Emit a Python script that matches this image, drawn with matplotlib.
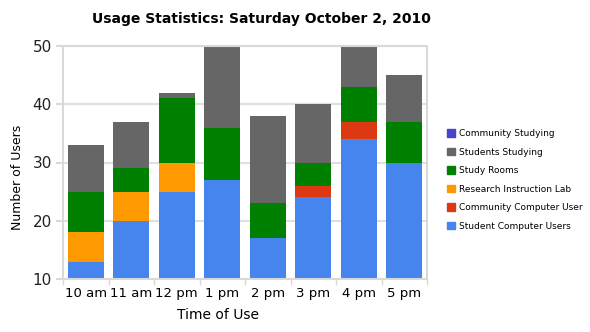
import matplotlib.pyplot as plt
import numpy as np
from matplotlib.patches import Patch

times = ["10 am", "11 am", "12 pm", "1 pm", "2 pm", "3 pm", "4 pm", "5 pm"]

# stacked from the bottom up
student_computer = [13, 20, 25, 27, 17, 24, 34, 30]
community_computer = [0, 0, 0, 0, 0, 2, 3, 0]
research_lab = [5, 5, 5, 0, 0, 0, 0, 0]
study_rooms = [7, 4, 11, 9, 6, 4, 6, 7]
students_studying = [8, 8, 1, 14, 15, 10, 7, 8]
community_studying = [0, 0, 0, 0, 0, 0, 0, 0]

series = [
    ("Student Computer Users", student_computer, "#4684ee"),
    ("Community Computer User", community_computer, "#dc3912"),
    ("Research Instruction Lab", research_lab, "#ff9900"),
    ("Study Rooms", study_rooms, "#008000"),
    ("Students Studying", students_studying, "#666666"),
    ("Community Studying", community_studying, "#4942cc"),
]

fig = plt.figure(figsize=(5.9, 3.32), dpi=100)
ax = fig.add_axes([63 / 590, 53 / 332, 364 / 590, 233 / 332])

x = np.arange(len(times))
bottom = np.zeros(len(times))
for name, vals, color in series:
    ax.bar(x, vals, 0.79, bottom=bottom, color=color, zorder=2)
    bottom += np.array(vals)

ax.set_xlim(-0.5, len(times) - 0.5)
ax.set_ylim(10, 50)
ax.set_yticks([10, 20, 30, 40, 50])
ax.yaxis.grid(True, color="#e0e0e0", linewidth=1.5, zorder=0)
ax.set_axisbelow(True)

ax.set_xticks(x)
ax.set_xticklabels(times, fontsize=9.5)
ax.set_xticks(np.arange(-0.5, len(times)), minor=True)
ax.tick_params(axis="x", which="major", length=0, pad=6)
ax.tick_params(axis="x", which="minor", length=4, color="#d9d9d9", width=1)
ax.tick_params(axis="y", length=5, color="#d9d9d9", width=1.5, labelsize=11,
               labelcolor="#222222", pad=3)

for sp in ax.spines.values():
    sp.set_color("#d9d9d9")
    sp.set_linewidth(1.5)

fig.text(261 / 590, 1 - 19 / 332, "Usage Statistics: Saturday October 2, 2010",
         ha="center", va="center", fontsize=10, fontweight="bold")
fig.text(218 / 590, 1 - 315 / 332, "Time of Use", ha="center", va="center",
         fontsize=10)
fig.text(18 / 590, 1 - 177 / 332, "Number of Users", ha="center", va="center",
         rotation=90, fontsize=9)

handles = [Patch(color=c, label=n) for n, v, c in reversed(series)]
fig.legend(handles=handles, loc="center left",
           bbox_to_anchor=(443 / 590, 1 - 180 / 332), frameon=False,
           fontsize=6.5, handlelength=0.9, handleheight=0.9, handletextpad=0.45,
           labelspacing=1.05, borderaxespad=0)

fig.savefig("out.png", dpi=100)
